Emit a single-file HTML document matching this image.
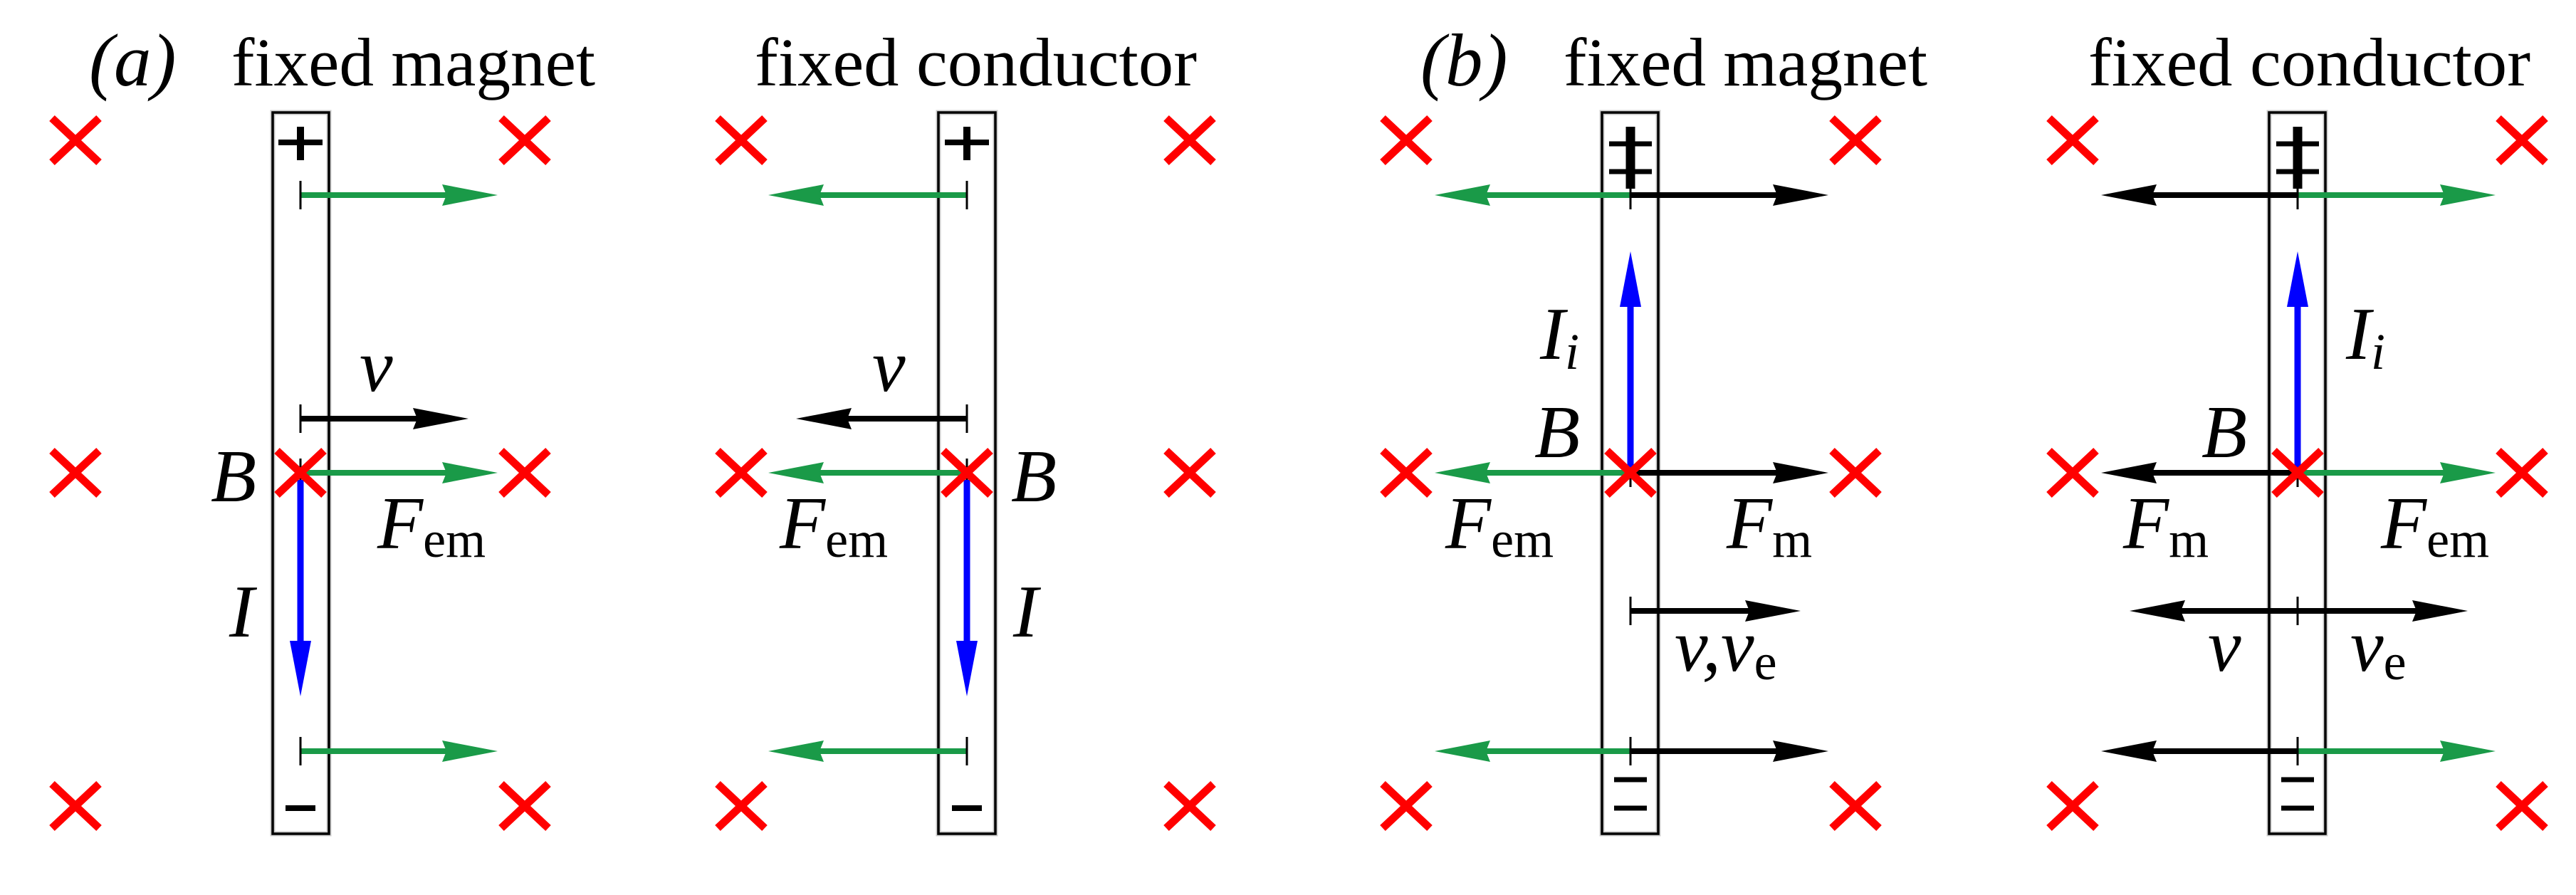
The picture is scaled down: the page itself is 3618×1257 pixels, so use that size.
<!DOCTYPE html>
<html><head><meta charset="utf-8"><style>
html,body{margin:0;padding:0;background:#fff;}
svg{display:block;}
.t{font-family:"Liberation Serif",serif;font-size:96px;fill:#000;}
.m{font-family:"Liberation Serif",serif;font-style:italic;font-size:105px;fill:#000;}
.s{font-family:"Liberation Serif",serif;font-style:normal;font-size:72px;fill:#000;}
.si{font-family:"Liberation Serif",serif;font-style:italic;font-size:72px;fill:#000;}
</style></head><body>
<svg id="g" width="3618" height="1257" xmlns="http://www.w3.org/2000/svg">
<g id="shapes"></g>
<text class="m" x="125" y="120">(a)</text>
<text class="t" x="325" y="120" textLength="511" lengthAdjust="spacingAndGlyphs">fixed magnet</text>
<text class="t" x="1060" y="120" textLength="621" lengthAdjust="spacingAndGlyphs">fixed conductor</text>
<text class="m" x="1995" y="120">(b)</text>
<text class="t" x="2196" y="120" textLength="511" lengthAdjust="spacingAndGlyphs">fixed magnet</text>
<text class="t" x="2933" y="120" textLength="621" lengthAdjust="spacingAndGlyphs">fixed conductor</text>

<text class="m" x="296" y="704">B</text>
<text class="m" x="505" y="549">v</text>
<text class="m" x="530" y="770">F<tspan class="s" dy="12">em</tspan></text>
<text class="m" x="322" y="894">I</text>

<text class="m" x="1225" y="549">v</text>
<text class="m" x="1420" y="704">B</text>
<text class="m" x="1095" y="770">F<tspan class="s" dy="12">em</tspan></text>
<text class="m" x="1423" y="894">I</text>

<text class="m" x="2163" y="504">I<tspan class="si" dy="14">i</tspan></text>
<text class="m" x="2155" y="642">B</text>
<text class="m" x="2030" y="770">F<tspan class="s" dy="12">em</tspan></text>
<text class="m" x="2425" y="770">F<tspan class="s" dy="12">m</tspan></text>
<text class="m" x="2352" y="942">v,v<tspan class="s" dy="12">e</tspan></text>

<text class="m" x="3295" y="504">I<tspan class="si" dy="14">i</tspan></text>
<text class="m" x="3092" y="642">B</text>
<text class="m" x="2982" y="770">F<tspan class="s" dy="12">m</tspan></text>
<text class="m" x="3344" y="770">F<tspan class="s" dy="12">em</tspan></text>
<text class="m" x="3101" y="942">v</text>
<text class="m" x="3301" y="942">v<tspan class="s" dy="12">e</tspan></text>
</svg>
<script>
var NS="http://www.w3.org/2000/svg",G=document.getElementById("shapes");
function el(n,a){var e=document.createElementNS(NS,n);for(var k in a)e.setAttribute(k,a[k]);G.appendChild(e);return e;}
var GR="#1a9a48",RD="#ff0000",BL="#0000ff",BK="#000";
function cross(x,y){el("path",{d:"M"+(x-33)+" "+(y-31)+"L"+(x+33)+" "+(y+31)+"M"+(x-33)+" "+(y+31)+"L"+(x+33)+" "+(y-31),stroke:RD,"stroke-width":11,fill:"none"});}
function harrow(x1,x2,y,c){var d=x2>x1?1:-1;el("line",{x1:x1,y1:y,x2:x2-d*60,y2:y,stroke:c,"stroke-width":8});
 el("polygon",{points:x2+","+y+" "+(x2-d*78)+","+(y-15)+" "+(x2-d*72)+","+y+" "+(x2-d*78)+","+(y+15),fill:c});}
function varrow(x,y1,y2){var d=y2>y1?1:-1;el("line",{x1:x,y1:y1,x2:x,y2:y2-d*70,stroke:BL,"stroke-width":9});
 el("polygon",{points:x+","+y2+" "+(x-15)+","+(y2-d*78)+" "+(x+15)+","+(y2-d*78),fill:BL});}
function tick(x,y){el("line",{x1:x,y1:y-20,x2:x,y2:y+20,stroke:BK,"stroke-width":3});}
function rod(x1,x2){el("rect",{x:x1,y:158,width:x2-x1,height:1013,fill:"none",stroke:"#ccc","stroke-width":7});
 el("rect",{x:x1,y:158,width:x2-x1,height:1013,fill:"none",stroke:BK,"stroke-width":3.5});}
function hl(x1,x2,y,w){el("line",{x1:x1,y1:y,x2:x2,y2:y,stroke:BK,"stroke-width":w});}
function vl(x,y1,y2,w){el("line",{x1:x,y1:y1,x2:x,y2:y2,stroke:BK,"stroke-width":w});}
var rows=[197,664,1132];
[[106,737],[1041,1671],[1975,2606],[2911,3542]].forEach(function(p){rows.forEach(function(y){cross(p[0],y);cross(p[1],y);});});
rod(383,462);var c=422;
hl(c-31,c+31,200,8);vl(c,178,225,10);hl(c-21,c+21,1135,8);
[274,664,1055].forEach(function(y){harrow(c,699,y,GR);tick(c,y);});
harrow(c,658,588,BK);tick(c,588);
varrow(c,674,978);cross(c,664);
rod(1318,1398);c=1358;
hl(c-31,c+31,200,8);vl(c,178,225,10);hl(c-21,c+21,1135,8);
[274,664,1055].forEach(function(y){harrow(c,1079,y,GR);tick(c,y);});
harrow(c,1118,588,BK);tick(c,588);
varrow(c,674,978);cross(c,664);
rod(2250,2329);c=2290;
hl(c-30,c+30,202,7);hl(c-30,c+30,241,7);vl(c,178,265,13);
hl(c-23,c+23,1095,7);hl(c-23,c+23,1135,7);
[274,664,1055].forEach(function(y){harrow(c,2015,y,GR);harrow(c,2568,y,BK);tick(c,y);});
harrow(c,2529,858,BK);tick(c,858);
varrow(c,658,353);cross(c,664);
rod(3187,3266);c=3227;
hl(c-30,c+30,202,7);hl(c-30,c+30,241,7);vl(c,178,265,13);
hl(c-23,c+23,1095,7);hl(c-23,c+23,1135,7);
[274,664,1055].forEach(function(y){harrow(c,2951,y,BK);harrow(c,3505,y,GR);tick(c,y);});
harrow(c,2991,858,BK);harrow(c,3466,858,BK);tick(c,858);
varrow(c,658,353);cross(c,664);
</script>
</body></html>
